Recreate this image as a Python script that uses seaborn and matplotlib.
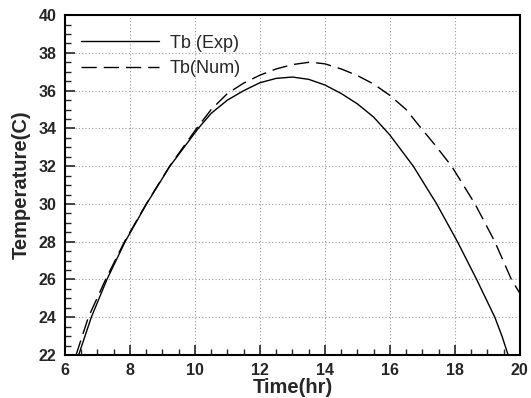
import pandas as pd
import matplotlib
matplotlib.use("Agg")
import matplotlib.pyplot as plt
from matplotlib.ticker import MultipleLocator
import seaborn as sns

# ==================================================
# Data
# ==================================================
exp_time = [6.42, 6.81, 7.29, 7.85, 8.51, 9.23, 10.1, 10.5, 11.0, 11.5, 12.0,
            12.5, 13.0, 13.5, 14.0, 14.5, 15.0, 15.5, 16.0, 16.72, 17.44,
            18.08, 18.67, 18.95, 19.23, 19.45, 19.64]
exp_temp = [22.0, 24.0, 26.0, 28.0, 30.0, 32.0, 34.0, 34.8, 35.5, 36.0, 36.42,
            36.65, 36.72, 36.6, 36.3, 35.85, 35.3, 34.6, 33.65, 32.0, 30.0,
            28.0, 26.0, 25.0, 24.0, 23.0, 22.0]

num_time = [6.34, 6.72, 7.25, 7.83, 8.5, 9.22, 10.05, 10.5, 11.0, 11.5, 12.0,
            12.5, 13.0, 13.54, 14.0, 14.5, 15.0, 15.5, 16.0, 16.5, 16.92,
            17.4, 17.9, 18.62, 19.23, 19.74, 20.0]
num_temp = [22.0, 24.0, 26.0, 28.0, 30.0, 32.0, 34.0, 35.0, 35.85, 36.4, 36.82,
            37.15, 37.38, 37.51, 37.42, 37.15, 36.8, 36.35, 35.75, 35.0, 34.1,
            33.1, 32.0, 30.0, 28.0, 26.0, 25.27]

df_exp = pd.DataFrame({"time": exp_time, "temp": exp_temp})
df_num = pd.DataFrame({"time": num_time, "temp": num_temp})

# ==================================================
# Settings
# ==================================================
sns.set_style("ticks")
plt.rcParams["font.family"] = ["Liberation Sans", "DejaVu Sans"]

fig = plt.figure(figsize=(5.31, 3.98), dpi=100)
ax = fig.add_axes([0.1224, 0.108, 0.8566, 0.854])

sns.lineplot(data=df_exp, x="time", y="temp", ax=ax, color="black",
             linewidth=1.0, label="Tb (Exp)", sort=False)
sns.lineplot(data=df_num, x="time", y="temp", ax=ax, color="black",
             linewidth=1.0, label="Tb(Num)", sort=False, dashes=False)
ax.lines[1].set_dashes((11, 5))

ax.set_xlim(6, 20)
ax.set_ylim(22, 40)
ax.xaxis.set_major_locator(MultipleLocator(2))
ax.xaxis.set_minor_locator(MultipleLocator(0.5))
ax.yaxis.set_major_locator(MultipleLocator(2))
ax.yaxis.set_minor_locator(MultipleLocator(0.5))

ax.tick_params(which="both", direction="in", top=False, right=False,
               labelsize=11.5, width=1.2, pad=6)
ax.tick_params(which="major", length=7)
ax.tick_params(which="minor", length=4, width=1.0)
for lbl in ax.get_xticklabels() + ax.get_yticklabels():
    lbl.set_fontweight("bold")

for sp in ax.spines.values():
    sp.set_linewidth(1.5)
    sp.set_color("black")

ax.grid(True, which="major", linestyle=(0, (1, 2)), color="#999999", linewidth=0.8)

ax.set_xlabel("Time(hr)", fontsize=14.5, fontweight="bold", labelpad=0)
ax.set_ylabel("Temperature(C)", fontsize=14.5, fontweight="bold", labelpad=6)

leg = ax.legend(loc="upper left", frameon=False, fontsize=13,
                handlelength=4.3, bbox_to_anchor=(0.0, 0.99),
                labelspacing=0.45, handletextpad=0.6)

fig.savefig("out.png", dpi=100)
